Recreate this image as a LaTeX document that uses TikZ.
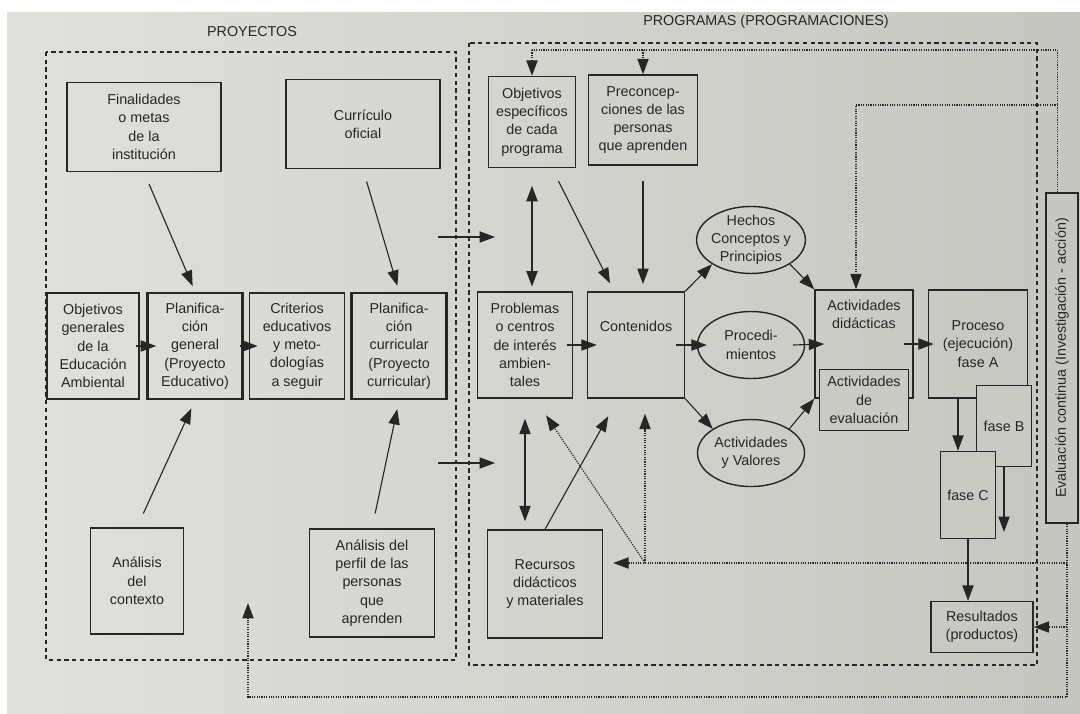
\documentclass[tikz,border=0pt]{standalone}
\usepackage{fontspec}
\setmainfont{Liberation Sans}
\usetikzlibrary{arrows.meta, positioning, shapes.geometric}
\definecolor{paperL}{RGB}{224,224,220}
\definecolor{paperR}{RGB}{198,198,193}
\definecolor{ink}{RGB}{38,38,38}

\begin{document}
\begin{tikzpicture}
	[x=0.025cm, y=-0.025cm, on grid, font=\fontsize{10.2}{13}\selectfont, text=ink,
	 >={Triangle[length=11pt,width=8pt]},
	 box/.style={draw=ink, line width=1pt, align=center, inner sep=1pt},
	 thickbox/.style={box, line width=2pt},
	 oval/.style={draw=ink, line width=1pt, ellipse, align=center, inner xsep=-1pt, inner ysep=-2pt, minimum width=2.675cm, minimum height=1.675cm},
	 cover/.style={fill=paperR!85!paperL},
	 arr/.style={draw=ink, line width=0.8pt, ->},
	 dbl/.style={draw=ink, line width=0.8pt, <->},
	 fb/.style={draw=ink, line width=0.9pt, dash pattern=on 0.8pt off 0.9pt},
	 fbarr/.style={fb, ->},
	 panel/.style={draw=ink, line width=0.9pt, dash pattern=on 3pt off 2.5pt}]
   \useasboundingbox (0,0) rectangle (1080,713);
   \fill[left color=paperL, right color=paperR] (7,12) rectangle (1080,713);
   \draw[panel] (46,52) rectangle (456,660);
   \draw[panel] (469,43) rectangle (1037,665);
   \node (t_proy) at (252,32) {PROYECTOS};
   \node (t_prog) at (766,22) {PROGRAMAS (PROGRAMACIONES)};

   \node[box, minimum width=3.85cm, minimum height=2.225cm] (fin) at (144,127) {Finalidades\\o metas\\de la\\institución};
   \node[box, minimum width=3.85cm, minimum height=2.225cm] (curr) at (363,124) {Currículo\\oficial};
   \node[box, minimum width=2.3cm, minimum height=2.65cm] (obj_g) at (93,346) {Objetivos\\generales\\de la\\Educación\\Ambiental};
   \node[thickbox, minimum width=2.375cm, minimum height=2.65cm] (plan_g) [right=2.55cm of obj_g] {Planifica-\\ción\\general\\(Proyecto\\Educativo)};
   \node[box, minimum width=2.375cm, minimum height=2.65cm] (crit) [right=2.55cm of plan_g] {Criterios\\educativos\\y meto-\\dologías\\a seguir};
   \node[thickbox, minimum width=2.375cm, minimum height=2.65cm] (plan_c) [right=2.55cm of crit] {Planifica-\\ción\\curricular\\(Proyecto\\curricular)};
   \node[box, minimum width=2.325cm, minimum height=2.65cm] (an_ctx) at (137,581) {Análisis\\del\\contexto};
   \node[box, minimum width=3.125cm, minimum height=2.7cm] (an_per) at (372,583) {Análisis del\\perfil de las\\personas\\que\\aprenden};

   \node[box, minimum width=2.175cm, minimum height=2.275cm] (obj_e) at (532,122) {Objetivos\\específicos\\de cada\\programa};
   \node[box, minimum width=2.725cm, minimum height=2.25cm] (prec) at (643,120) {Preconcep-\\ciones de las\\personas\\que aprenden};
   \node[box, minimum width=2.375cm, minimum height=2.65cm] (prob) at (525,345) {Problemas\\o centros\\de interés\\ambien-\\tales};
   \node[box, minimum width=2.425cm, minimum height=2.65cm] (cont) [right=2.775cm of prob] {Contenidos\\~\\~};
   \node[oval] (proc) at (751,345) {Procedi-\\mientos};
   \node[oval] (hech) [above=2.625cm of proc] {Hechos\\Conceptos y\\Principios};
   \node[oval] (act_v) [below=2.7cm of proc] {Actividades\\y Valores};
   \node[box, minimum width=2.45cm, minimum height=2.7cm,
         label={[anchor=north, align=center, yshift=-4pt]north:{Actividades\\didácticas}}] (act_d) at (864,344) {};
   \node[box, cover, minimum width=2.225cm, minimum height=1.525cm] (act_e) at (864,400) {Actividades\\de\\evaluación};
   \node[box, minimum width=2.475cm, minimum height=2.7cm] (proceso) at (978,344) {Proceso\\(ejecución)\\fase A};
   \node[box, cover, minimum width=1.375cm, minimum height=2.025cm] (fase_b) at (1004,426) {fase B};
   \node[box, cover, minimum width=1.375cm, minimum height=2.175cm] (fase_c) at (968,495) {fase C};
   \node[box, minimum width=2.55cm, minimum height=1.275cm] (res) at (982,627) {Resultados\\(productos)};
   \node[box, minimum width=2.875cm, minimum height=2.7cm] (rec) at (545,584) {Recursos\\didácticos\\y materiales};
   \node[box, minimum width=0.8cm, minimum height=8.25cm] (eval) at (1062,358) {\rotatebox{90}{Evaluación continua (Investigación - acción)}};

   \coordinate (prj_1) at (438,237);
   \coordinate (prg_1) at (495,237);
   \coordinate (prj_2) at (438,463);
   \coordinate (prg_2) at (495,463);
   \coordinate (top_c) at (532,50);
   \coordinate (mid_c) at (1058,105);
   \coordinate (bot_c) at (248,697);
   \coordinate (ctx_in) at (248,603);
   \coordinate (j_r) at (1067,563);
   \coordinate (j_c) at (645,563);
   \coordinate (b_out) at (1004,532);

   \draw[arr, shorten <=0.32cm, shorten >=0.15cm] (fin.south) -- (plan_g.north);
   \draw[arr, shorten <=0.32cm, shorten >=0.15cm] (curr.south) -- (plan_c.north);
   \draw[arr, shorten <=0.38cm, shorten >=0.22cm] (an_ctx.north) -- (plan_g.south);
   \draw[arr, shorten <=0.38cm, shorten >=0.22cm] (an_per.north) -- (plan_c.south);
   \draw[arr] ([xshift=-0.1cm]obj_g.east) -- ([xshift=0.25cm]plan_g.west);
   \draw[arr] ([xshift=-0.1cm]plan_g.east) -- ([xshift=0.22cm]crit.west);
   \draw[arr] (prj_1) -- (prg_1);
   \draw[arr] (prj_2) -- (prg_2);

   \draw[dbl, shorten <=0.44cm, shorten >=0.12cm] (obj_e.south) -- (obj_e.south |- prob.north);
   \draw[dbl, shorten <=0.5cm, shorten >=0.2cm] (prob.south) -- (prob.south |- rec.north);
   \draw[arr, shorten <=0.36cm, shorten >=0.22cm] ([xshift=0.5cm]obj_e.south) -- ([xshift=-0.55cm]cont.north);
   \draw[arr, shorten <=0.38cm, shorten >=0.18cm] (prec.south) -- (prec.south |- cont.north);
   \draw[arr] ([xshift=-0.15cm]prob.east) -- ([xshift=0.25cm]cont.west);
   \draw[arr] (cont.north east) -- (hech.south west);
   \draw[arr] ([xshift=-0.22cm]cont.east) -- ([xshift=0.25cm]proc.west);
   \draw[arr] (cont.south east) -- (act_v.north west);
   \draw[arr] (hech.south east) -- (act_d.north west);
   \draw[arr] ([xshift=-0.3cm]proc.east) -- ([xshift=0.25cm]act_d.west);
   \draw[arr] (act_v.north east) -- (act_d.south west);
   \draw[arr] ([xshift=-0.25cm]act_d.east) -- ([xshift=0.15cm]proceso.west);
   \draw[arr] ([xshift=-0.5cm]proceso.south) -- ([xshift=-0.5cm]proceso.south |- fase_c.north);
   \draw[arr] (fase_b.south) -- (b_out);
   \draw[arr] (fase_c.south) -- (fase_c.south |- res.north);
   \draw[arr, shorten >=0.5cm] (rec.north) -- ([xshift=-0.45cm]cont.south);

   \draw[fb] ([xshift=0.3cm]eval.north west) |- (top_c);
   \draw[fbarr] (top_c) -- (top_c |- obj_e.north);
   \draw[fbarr] (prec.north |- top_c) -- (prec.north);
   \draw[fbarr] (mid_c) -| ([xshift=-0.2cm]act_d.north);
   \draw[fbarr] ([xshift=0.125cm]eval.south) |- (bot_c) -- (ctx_in);
   \draw[fbarr, shorten >=0.25cm] (j_r) -- (j_r -| rec.east);
   \draw[fbarr] (res.east -| j_r) -- (res.east);
   \draw[fbarr, shorten >=0.375cm] (j_c) -- (j_c |- cont.south);
   \draw[fbarr, shorten >=0.5cm] (j_c) -- ([xshift=0.25cm]prob.south);
\end{tikzpicture}
\end{document}
